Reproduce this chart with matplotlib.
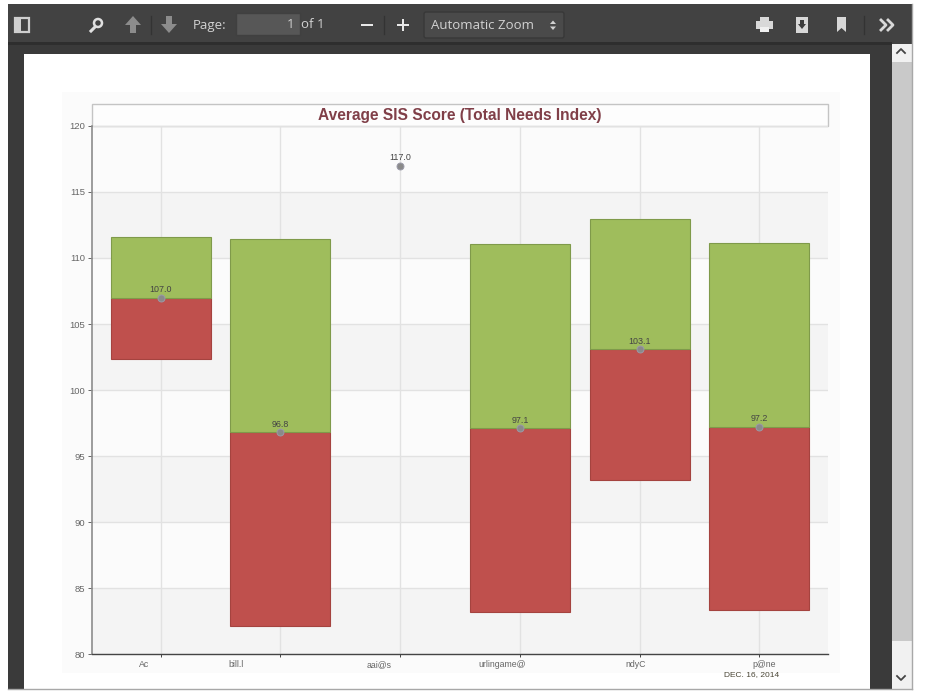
# Average SIS score chart, shown as a screenshot of a PDF viewer.
import matplotlib
matplotlib.use("Agg")
import matplotlib.pyplot as plt
from matplotlib.patches import Rectangle, Polygon, Circle, FancyBboxPatch

W, H = 929, 691

categories = ["Ac", "bill.l", "aai@s", "urlingame@", "ndyC", "p@ne"]
label_shift_px = [-16, -44, -21, -18, -4, 5]
low_values = [102.35, 82.1, None, 83.2, 93.2, 83.3]
mid_values = [107.0, 96.8, 117.0, 97.1, 103.1, 97.2]
high_values = [111.6, 111.45, None, 111.05, 112.95, 111.1]
y_ticks = [80, 85, 90, 95, 100, 105, 110, 115, 120]

RED = "#bf504d"
GREEN = "#9fbd5c"
TITLE = "#803f48"
TOOL_TEXT = "#d2d2d2"
TICK_TEXT = "#666666"

plt.rcParams["font.family"] = ["Liberation Sans", "DejaVu Sans"]

fig = plt.figure(figsize=(W / 100, H / 100), dpi=100, facecolor="white")

# --- viewer chrome, in pixel coordinates ---
bg = fig.add_axes([0, 0, 1, 1], zorder=0)
bg.set_xlim(0, W)
bg.set_ylim(H, 0)
bg.axis("off")


def box(x0, y0, x1, y1, color, **kw):
    bg.add_patch(Rectangle((x0, y0), x1 - x0, y1 - y0, facecolor=color, edgecolor=kw.pop("edge", "none"), **kw))


def poly(points, color="#bdbdbd"):
    bg.add_patch(Polygon(points, closed=True, facecolor=color, edgecolor="none"))


box(8, 4, 912, 689, "#3a3a3a")
box(8, 4, 912, 44, "#424242")
box(8, 42, 892, 45, "#2e2e2e")
box(24, 54, 870, 689, "white")
box(892, 44, 912, 689, "#f1f1f1")
box(892, 62, 912, 641, "#c9c9c9")
bg.plot([8, 912], [688.5, 688.5], color="#a8a8a8", lw=1)
bg.plot([912, 912], [4, 689], color="#a8a8a8", lw=1)

# chart backdrop
box(62, 92, 840, 673, "#fbfbfb")
box(92, 104, 828, 126, "#fdfdfd", edge="#c4c4c4", linewidth=1)

# sidebar toggle
box(15, 18, 29, 32, "none", edge="#cfcfcf", linewidth=1.6)
box(16, 19, 21, 31, "#cfcfcf")
# magnifier
bg.add_patch(Circle((98, 23), 4, facecolor="none", edgecolor="#e0e0e0", lw=1.8))
bg.plot([95, 91], [27, 31], color="#e0e0e0", lw=2.2)
# page arrows
poly([(133, 16), (141, 25), (136, 25), (136, 33), (130, 33), (130, 25), (125, 25)], "#8c8c8c")
poly([(169, 33), (177, 24), (172, 24), (172, 16), (166, 16), (166, 24), (161, 24)], "#8c8c8c")
bg.plot([151.5, 151.5], [16, 34], color="#333333", lw=1)
bg.text(193, 25, "Page:", color=TOOL_TEXT, fontsize=9.5, va="center", family="Open Sans")
box(236, 13, 300, 35, "#575757", edge="#404040", linewidth=1)
bg.text(294, 24, "1", color=TOOL_TEXT, fontsize=9.5, va="center", ha="right", family="Open Sans")
bg.text(301, 24, "of 1", color=TOOL_TEXT, fontsize=9.5, va="center", family="Open Sans")
# zoom buttons
box(361, 23.5, 373, 26, "#e8e8e8")
bg.plot([384.5, 384.5], [16, 34], color="#333333", lw=1)
box(397, 23.5, 409, 26, "#e8e8e8")
box(401.8, 18.5, 404.2, 31, "#e8e8e8")
bg.add_patch(FancyBboxPatch((424, 12), 140, 26, boxstyle="round,pad=0,rounding_size=2",
                            facecolor="#4a4a4a", edgecolor="#383838", lw=1))
bg.text(431, 25.5, "Automatic Zoom", color=TOOL_TEXT, fontsize=9.5, va="center", family="Open Sans")
poly([(553, 20.5), (556, 24), (550, 24)], "#d2d2d2")
poly([(553, 30), (556, 26.5), (550, 26.5)], "#d2d2d2")
# print, download, bookmark, overflow
box(756, 21, 773, 29, "#d8d8d8")
box(760, 17, 769, 21, "#d8d8d8")
box(760, 27, 769, 32, "#f0f0f0")
box(796, 17, 808, 33, "#d8d8d8")
poly([(802, 29), (806, 24), (804, 24), (804, 20), (800, 20), (800, 24), (798, 24)], "#3c3c3c")
poly([(837, 17), (846, 17), (846, 32), (841.5, 28), (837, 32)], "#d8d8d8")
bg.plot([864.5, 864.5], [16, 34], color="#333333", lw=1)
for x in (881, 888):
    bg.plot([x, x + 5, x], [20, 25, 30], color="#d8d8d8", lw=2)
# scrollbar arrows
bg.plot([897, 901, 905], [53, 49, 53], color="#444444", lw=1.3)
bg.plot([897, 901, 905], [676, 680, 676], color="#444444", lw=1.3)

bg.text(460, 115, "Average SIS Score (Total Needs Index)", color=TITLE, fontsize=11.2,
        fontweight="bold", ha="center", va="center")

# --- the chart itself ---
ax = fig.add_axes([92 / W, 1 - 654 / H, 736 / W, 528 / H], zorder=1)
ax.patch.set_alpha(0)
ax.set_xlim(-0.572, 5.572)
ax.set_ylim(80, 120)

for i in range(len(y_ticks) - 1):
    if i % 2 == 0:
        ax.axhspan(y_ticks[i], y_ticks[i + 1], color="#f4f4f4", lw=0, zorder=0)
ax.grid(True, color="#e2e2e2", lw=1, zorder=1)
ax.set_axisbelow(True)

for i, (lo, mid, hi) in enumerate(zip(low_values, mid_values, high_values)):
    if lo is not None:
        ax.bar(i, mid - lo, bottom=lo, width=0.835, color=RED, edgecolor="#a5433f", lw=0.8, zorder=2)
        ax.bar(i, hi - mid, bottom=mid, width=0.835, color=GREEN, edgecolor="#7f9a4a", lw=0.8, zorder=2)
    ax.plot(i, mid, "o", ms=5, mfc="#8a8a8a", mec="#9a9aa8", mew=0.7, zorder=3)
    ax.annotate(f"{mid:.1f}", (i, mid), xytext=(0, 2.5), textcoords="offset points",
                ha="center", va="bottom", fontsize=6.4, color="#444444", zorder=4)

ax.set_yticks(y_ticks)
ax.set_xticks(range(len(categories)))
ax.set_xticklabels([])
ax.tick_params(axis="y", labelsize=6.8, labelcolor=TICK_TEXT, length=3, width=0.7, color="#666666", pad=2)
ax.tick_params(axis="x", length=2, width=0.7, color="#444444")
for i, (name, shift) in enumerate(zip(categories, label_shift_px)):
    ax.annotate(name, (i, 80), xytext=(shift * 0.72, -7.5), textcoords="offset points",
                ha="center", va="center", fontsize=6.3, color=TICK_TEXT, annotation_clip=False)

for side in ("top", "right"):
    ax.spines[side].set_visible(False)
ax.spines["left"].set_color("#8c8c8c")
ax.spines["left"].set_linewidth(1.2)
ax.spines["bottom"].set_color("#444444")
ax.spines["bottom"].set_linewidth(1.0)

fig.text(752 / W, 1 - 675 / H, "DEC. 16, 2014", color="#4a4636", fontsize=6,
         ha="center", va="center", zorder=5)

fig.savefig("out.png", dpi=100)
